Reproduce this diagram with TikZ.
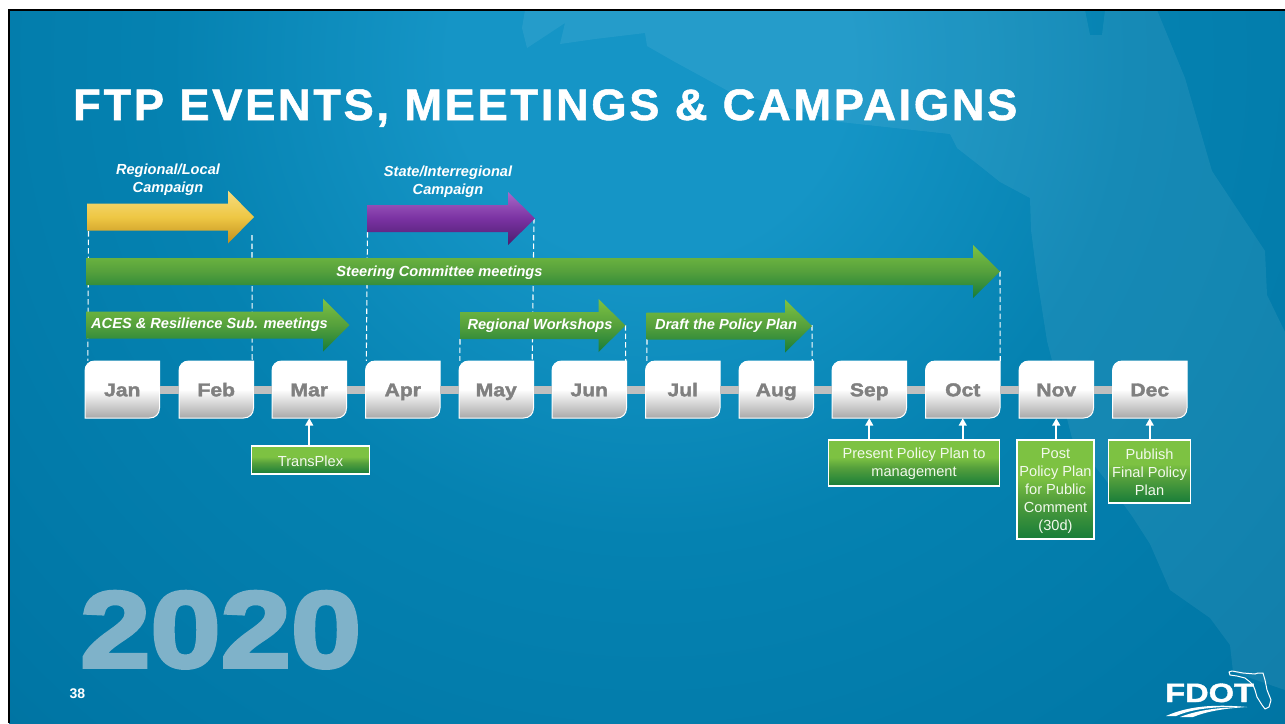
\documentclass[tikz,border=0pt]{standalone}
\usepackage{fontspec}
\usetikzlibrary{arrows.meta,calc}
\setmainfont{Liberation Sans}
\newfontfamily\heavyfont[BoldFeatures={FakeBold=2,FakeStretch=1.14}]{Liberation Sans}
\newfontfamily\yearfont[BoldFeatures={FakeBold=3.5,FakeStretch=1.17}]{Liberation Sans}
\newfontfamily\logofont[BoldFeatures={FakeBold=1.5,FakeStretch=1.23}]{Liberation Sans}
\newfontfamily\titlefont[BoldFeatures={FakeBold=1.2,FakeStretch=1.03,LetterSpace=6}]{Liberation Sans}
\newcommand{\firstline}{\rule{0pt}{13pt}}
\definecolor{bgA}{HTML}{1595C6}
\definecolor{bgB}{HTML}{0582B1}
\definecolor{bgC}{HTML}{0076A5}
\definecolor{bgD}{HTML}{00628A}
\definecolor{bgE}{HTML}{005C82}
\definecolor{yearcol}{HTML}{7FB2C9}
\definecolor{mTop}{HTML}{FFFFFF}
\definecolor{mBot}{HTML}{A9A9A9}
\definecolor{gTop}{HTML}{7DC242}
\definecolor{gMid}{HTML}{55A03C}
\definecolor{gBot}{HTML}{177C39}
\definecolor{yTop}{HTML}{F6DC80}
\definecolor{yMid}{HTML}{EEC744}
\definecolor{yBot}{HTML}{C18F1E}
\definecolor{pTop}{HTML}{A968C8}
\definecolor{pMid}{HTML}{7A32A2}
\definecolor{pBot}{HTML}{4B1D6E}
\pgfdeclareradialshading{bgshade}{\pgfpoint{0bp}{0bp}}{color(0bp)=(bgA);color(5bp)=(bgA);color(12bp)=(bgB);color(22bp)=(bgC);color(33bp)=(bgD);color(50bp)=(bgE)}
\pgfdeclareverticalshading{monthshade}{100bp}{color(0bp)=(mBot);color(25bp)=(mBot);color(50bp)=(mTop);color(75bp)=(mTop);color(100bp)=(mTop)}
\pgfdeclareverticalshading{boxshade}{100bp}{color(0bp)=(gBot);color(25bp)=(gBot);color(45bp)=(gMid);color(56bp)=(gTop);color(75bp)=(gTop);color(100bp)=(gTop)}
\pgfdeclareverticalshading{greenshade}{100bp}{color(0bp)=(gBot);color(25bp)=(gBot);color(50bp)=(gMid);color(75bp)=(gTop);color(100bp)=(gTop)}
\pgfdeclareverticalshading{yellowshade}{100bp}{color(0bp)=(yBot);color(25bp)=(yBot);color(50bp)=(yMid);color(75bp)=(yTop);color(100bp)=(yTop)}
\pgfdeclareverticalshading{purpleshade}{100bp}{color(0bp)=(pBot);color(25bp)=(pBot);color(50bp)=(pMid);color(75bp)=(pTop);color(100bp)=(pTop)}
\tikzset{
  monthbox/.style={shade,shading=monthshade,draw=white,line width=1pt},
  monthlabel/.style={inner sep=0pt,minimum width=74.5pt,minimum height=57pt,text height=13.5pt,text depth=0pt,text=black!50,font=\heavyfont\bfseries\fontsize{18.5}{20}\selectfont},
  barline/.style={draw=black!25,line width=8pt},
  dashline/.style={draw=white,line width=1.1pt,dash pattern=on 5.5pt off 3pt},
  notebox/.style={draw=white,line width=1.3pt,shading=boxshade,inner sep=0pt,align=center,text=white!90!gTop,font=\fontsize{14.6}{18}\selectfont},
  noteconn/.style={draw=white,line width=1.6pt,-{Triangle[width=8pt,length=7.5pt]}},
  arrowlabel/.style={inner sep=0pt,align=center,text=white,font=\bfseries\itshape\fontsize{14.6}{18}\selectfont},
}
\newcommand{\blockarrow}[5]{% x1, xhead, x2, ymid, shading
  \path[shade,shading=#5] (#1,#4-13.5) -- (#2,#4-13.5) -- (#2,#4-26.5) -- (#3,#4) -- (#2,#4+26.5) -- (#2,#4+13.5) -- (#1,#4+13.5) -- cycle;}
\begin{document}
\begin{tikzpicture}[x=1pt,y=-1pt]
\useasboundingbox (0,0) rectangle (1285,723);
\fill[white] (0,0) rectangle (1285,723);
\begin{scope}
  \clip (9,10) rectangle (1285,723);
  \shade[shading=bgshade] (650,60) circle (1000);
  % map silhouette
  \fill[white,opacity=0.07] (525,10) -- (522,28) -- (527,48) -- (565,23) -- (560,44) -- (595,39) -- (645,33) -- (647,46) -- (675,62) -- (730,92) -- (840,122) -- (950,134) -- (957,148) -- (980,166) -- (1000,182) -- (1030,198) -- (1031,230) -- (1037,277) -- (1047,341) -- (1072,438) -- (1105,479) -- (1132,516) -- (1150,544) -- (1170,590) -- (1210,618) -- (1230,645) -- (1233,672) -- (1285,690) -- (1285,332) -- (1267,295) -- (1265,251) -- (1212,171) -- (1185,78) -- (1157,10) -- (1105,10) -- (1102,35) -- (1090,35) -- (1085,10) -- cycle;
\end{scope}
\draw[black,line width=2.2pt] (9,723) -- (9,10) -- (1285,10);
% title and labels
\node[anchor=base west,inner sep=0pt,text=white] (title) at (73,120) {\titlefont\bfseries\fontsize{44}{48}\selectfont FTP EVENTS, MEETINGS \& CAMPAIGNS};
\node[anchor=base west,inner sep=0pt,text=yearcol] (year) at (80,667) {\yearfont\bfseries\fontsize{108}{110}\selectfont 2020};
\node[anchor=base west,inner sep=0pt,text=white] (pageno) at (69.5,698.5) {\bfseries\fontsize{14}{16}\selectfont 38};
% months
\foreach \n/\x/\l in {jan/85/Jan,feb/179/Feb,mar/272/Mar,apr/365.5/Apr,may/459/May,jun/552/Jun,jul/645.5/Jul,aug/739/Aug,sep/832/Sep,oct/925.5/Oct,nov/1019/Nov,dec/1112.5/Dec}{
  \path[monthbox] (\x,371) .. controls (\x,365) and (\x+4,361) .. (\x+10,361) -- (\x+74.5,361) -- (\x+74.5,408) .. controls (\x+74.5,414) and (\x+70.5,418) .. (\x+64.5,418) -- (\x,418) -- cycle;
  \node[monthlabel] (\n) at (\x+37.25,389.5) {\l};
}
\foreach \a/\b in {jan/feb,feb/mar,mar/apr,apr/may,may/jun,jun/jul,jul/aug,aug/sep,sep/oct,oct/nov,nov/dec}{
  \draw[barline] (\a.east) -- (\b.west);
}
% dashed guides
\coordinate (yelS) at (88.5,231);
\coordinate (yelE) at (252,235);
\coordinate (purS) at (367.5,232);
\coordinate (purE) at (534,218);
\coordinate (regS) at (460,339);
\coordinate (regE) at (625.5,325);
\coordinate (draS) at (647,339);
\coordinate (draE) at (812,325);
\coordinate (steE) at (1000,271);
\draw[dashline] (yelS) -- ([xshift=3pt]jan.north west);
\draw[dashline] (yelE) -- ([xshift=-1.5pt]feb.north east);
\draw[dashline] (purS) -- ([xshift=1pt]apr.north west);
\draw[dashline] (purE) -- ([xshift=-1.5pt]may.north east);
\draw[dashline] (regS) -- ([xshift=1pt]may.north west);
\draw[dashline] (regE) -- ([xshift=-1pt]jun.north east);
\draw[dashline] (draS) -- ([xshift=1.5pt]jul.north west);
\draw[dashline] (draE) -- ([xshift=-1.5pt]aug.north east);
\draw[dashline] (steE) -- (oct.north east);
% block arrows
\blockarrow{87}{228}{254}{217}{yellowshade}
\blockarrow{367}{508}{535}{218.5}{purpleshade}
\blockarrow{86}{973}{1000}{271.5}{greenshade}
\blockarrow{86}{323}{349.5}{325}{greenshade}
\blockarrow{460}{598.5}{625.5}{325.5}{greenshade}
\blockarrow{646.5}{785}{812}{326}{greenshade}
\node[arrowlabel] (lblA) at (168,179.5) {Regional/Local\\Campaign};
\node[arrowlabel] (lblB) at (448,181.5) {State/Interregional\\Campaign};
\node[arrowlabel] (lblC) at (439.5,272.5) {Steering Committee meetings};
\node[arrowlabel] (lblD) at (209.5,325) {ACES \& Resilience Sub. meetings};
\node[arrowlabel] (lblE) at (540,326) {Regional Workshops};
\node[arrowlabel] (lblF) at (726,326) {Draft the Policy Plan};
% note boxes
\node[notebox,minimum width=118.5pt,minimum height=28pt] (tpx) at (310.5,460) {\firstline TransPlex};
\node[notebox,minimum width=171.5pt,minimum height=46pt] (pres) at (914,463) {\firstline Present Policy Plan to\\management};
\node[notebox,minimum width=77pt,minimum height=99pt] (post) at (1055.5,489.5) {\firstline Post\\Policy Plan\\for Public\\Comment\\(30d)};
\node[notebox,minimum width=82.5pt,minimum height=63pt] (publ) at (1149.5,471.5) {\firstline Publish\\Final Policy\\Plan};
\draw[noteconn] (mar.south |- tpx.north) -- (mar.south);
\draw[noteconn] (sep.south |- pres.north) -- (sep.south);
\draw[noteconn] (oct.south |- pres.north) -- (oct.south);
\draw[noteconn] (nov.south |- post.north) -- (nov.south);
\draw[noteconn] (dec.south |- publ.north) -- (dec.south);
% FDOT logo
\node[anchor=base west,inner sep=0pt,text=white] (fdot) at (1165,702) {\logofont\bfseries\fontsize{26.5}{28}\selectfont FDOT};
\draw[white,line width=1pt,line join=round] (1229,672) -- (1232,671) -- (1243,673) -- (1255,674) -- (1258,673) -- (1263,673) -- (1265,680) -- (1267,690) -- (1271,700) -- (1269,707) -- (1265,709) -- (1262,705) -- (1257,697) -- (1255,690) -- (1253,685) -- (1250,682) -- (1245,678) -- (1237,676) -- (1230,675) -- cycle;
\fill[white] (1166,716) .. controls (1188,706) and (1215,704) .. (1247,707) .. controls (1215,706) and (1192,709) .. (1176,716) -- cycle;
\fill[white] (1180,717) .. controls (1198,710) and (1220,707) .. (1247,707) .. controls (1222,708.5) and (1205,712) .. (1193,717) -- cycle;
\end{tikzpicture}
\end{document}
